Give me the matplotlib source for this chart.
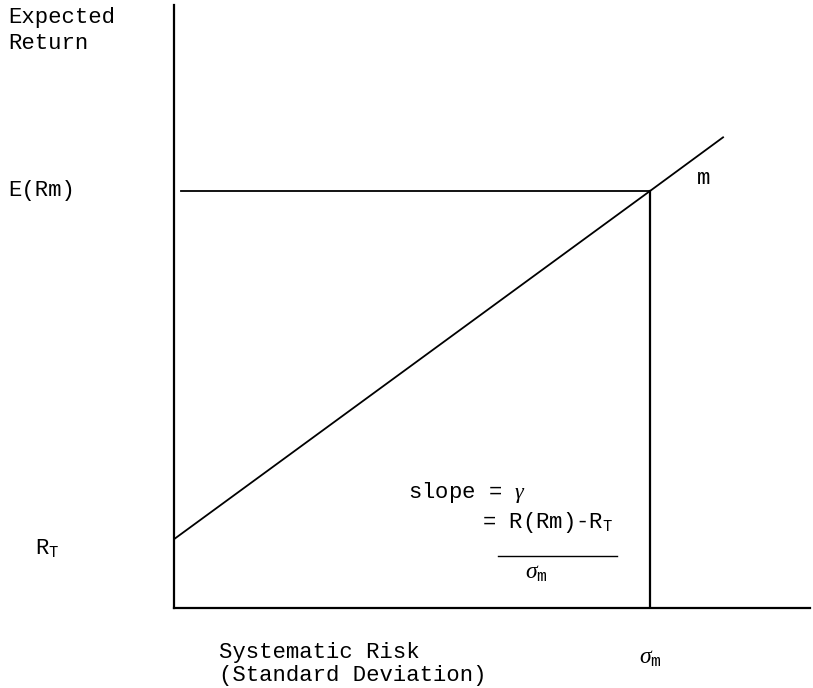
import matplotlib.pyplot as plt

plt.rcParams['font.family'] = ['Liberation Mono', 'DejaVu Sans Mono']
plt.rcParams['mathtext.fontset'] = 'custom'
plt.rcParams['mathtext.rm'] = 'Liberation Mono'
plt.rcParams['mathtext.it'] = 'Liberation Serif:italic'
plt.rcParams['mathtext.bf'] = 'Liberation Mono:bold'

# Dados (unidades relativas: sigma_m = 1, E(Rm) = 1)
risco = [0.0, 1.0, 1.155]          # desvio padrão ao longo da linha
retorno = [0.165, 1.0, 1.13]       # retorno esperado ao longo da linha
taxa_livre = 0.165                 # R_T
sigma_m = 1.0
retorno_m = 1.0                    # E(Rm)

cor = '#000000'
fs = 16

fig = plt.figure(figsize=(8.13, 6.88), dpi=100)
ax = fig.add_axes([174 / 813, 80 / 688, 636 / 813, 603 / 688])
ax.set_xlim(0, 636 / 476)
ax.set_ylim(0, 603 / 417)

for lado in ['top', 'right']:
    ax.spines[lado].set_visible(False)
for lado in ['left', 'bottom']:
    ax.spines[lado].set_linewidth(1.6)
    ax.spines[lado].set_color(cor)
ax.set_xticks([])
ax.set_yticks([])

# Linha do mercado de capitais
ax.plot(risco, retorno, color=cor, linewidth=1.3, solid_capstyle='butt')
# Linhas de referência do ponto m
ax.plot([0.015, sigma_m], [retorno_m, retorno_m], color=cor, linewidth=1.3)
ax.plot([sigma_m, sigma_m], [0, retorno_m], color=cor, linewidth=1.6)

# Rótulos
fig.text(8 / 813, 1 - 7 / 688, 'Expected\nReturn', ha='left', va='top',
         fontsize=fs, color=cor, linespacing=1.3)
ax.text(-0.349, retorno_m, 'E(Rm)', ha='left', va='center', fontsize=fs,
        color=cor, clip_on=False)
ax.text(-0.292, taxa_livre - 0.02, r'R$_\mathrm{T}$', ha='left', va='center',
        fontsize=fs, color=cor, clip_on=False)
ax.text(sigma_m, -0.118, r'$\sigma_\mathrm{m}$', ha='center', va='center',
        fontsize=fs + 1, color=cor, clip_on=False)
ax.text(1.113, 1.031, 'm', ha='center', va='center', fontsize=fs, color=cor)
ax.text(0.0945, -0.082, 'Systematic Risk\n(Standard Deviation)', ha='left',
        va='top', fontsize=fs, color=cor, clip_on=False, linespacing=1.12)

# Fórmula da inclinação
ax.text(0.492, 0.276, r'slope = $\gamma$', ha='left', va='center',
        fontsize=fs, color=cor)
ax.text(0.647, 0.204, r'= R(Rm)-R$_\mathrm{T}$', ha='left', va='center',
        fontsize=fs, color=cor)
ax.plot([0.681, 0.931], [0.125, 0.125], color=cor, linewidth=1.0)
ax.text(0.761, 0.085, r'$\sigma_\mathrm{m}$', ha='center', va='center',
        fontsize=fs + 1, color=cor)

fig.savefig('out.png', dpi=100, facecolor='white')
